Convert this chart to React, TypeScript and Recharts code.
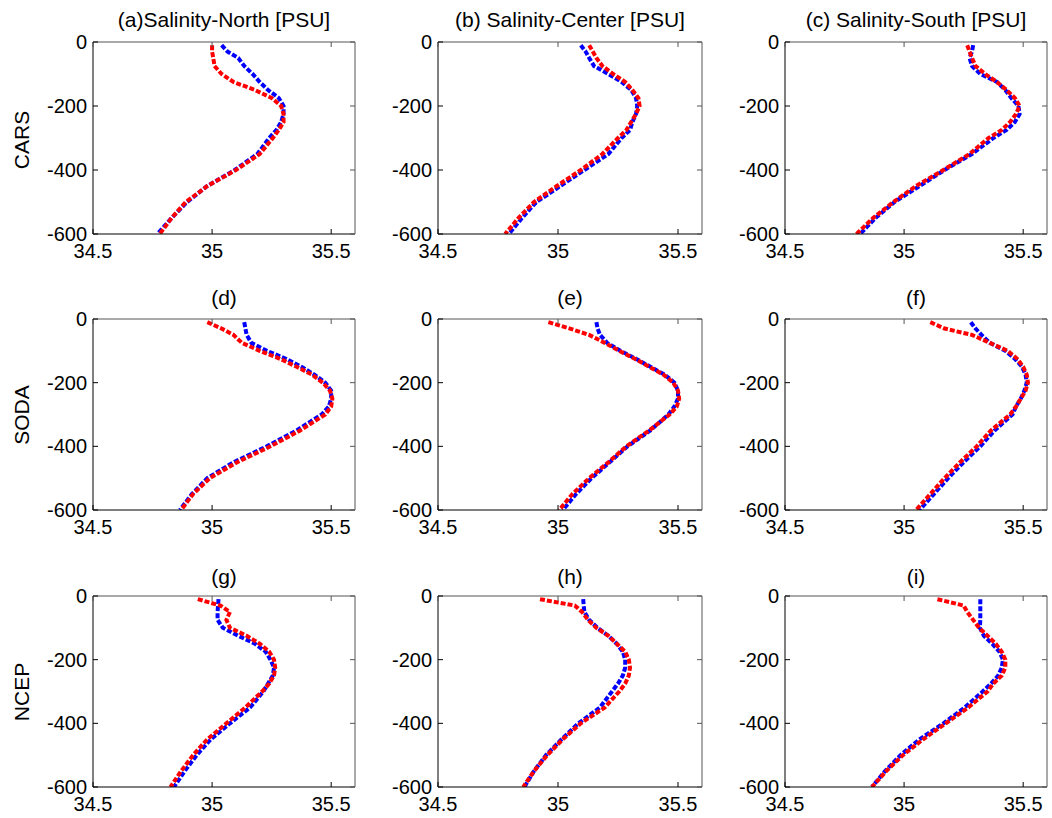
import React from "react";
import { LineChart, Line, XAxis, YAxis } from "recharts";

// depth levels (m) shared by every profile
const DEPTHS = [-10, -30, -50, -75, -100, -125, -150, -175, -200, -225, -250, -275, -300, -350, -400, -450, -500, -550, -600];

const X_TICKS = [34.5, 35, 35.5];
const Y_TICKS = [0, -200, -400, -600];
const X_DOMAIN: [number, number] = [34.5, 35.6];
const Y_DOMAIN: [number, number] = [-600, 0];

const ROW_LABELS = ["CARS", "SODA", "NCEP"];
const TITLES = [
  "(a)Salinity-North [PSU]",
  "(b) Salinity-Center [PSU]",
  "(c) Salinity-South [PSU]",
  "(d)",
  "(e)",
  "(f)",
  "(g)",
  "(h)",
  "(i)",
];

// CARS
const carsNorthBlue = [35.04, 35.065, 35.11, 35.135, 35.17, 35.2, 35.235, 35.28, 35.3, 35.3, 35.29, 35.27, 35.24, 35.19, 35.095, 34.98, 34.895, 34.83, 34.77];
const carsNorthRed = [35.0, 35.0, 35.005, 35.01, 35.04, 35.09, 35.18, 35.25, 35.29, 35.3, 35.3, 35.28, 35.255, 35.2, 35.1, 34.98, 34.89, 34.83, 34.78];
const carsCenterBlue = [35.095, 35.115, 35.13, 35.15, 35.21, 35.265, 35.305, 35.325, 35.33, 35.325, 35.31, 35.3, 35.265, 35.21, 35.11, 35.01, 34.91, 34.85, 34.795];
const carsCenterRed = [35.13, 35.145, 35.16, 35.185, 35.23, 35.28, 35.31, 35.335, 35.34, 35.325, 35.305, 35.285, 35.25, 35.185, 35.095, 34.995, 34.9, 34.835, 34.78];
const carsSouthBlue = [35.29, 35.285, 35.275, 35.285, 35.32, 35.39, 35.425, 35.45, 35.48, 35.485, 35.465, 35.43, 35.375, 35.285, 35.17, 35.065, 34.96, 34.88, 34.815];
const carsSouthRed = [35.265, 35.275, 35.285, 35.3, 35.34, 35.39, 35.43, 35.465, 35.485, 35.47, 35.445, 35.41, 35.355, 35.275, 35.165, 35.05, 34.955, 34.87, 34.8];

// SODA
const sodaNorthBlue = [35.135, 35.14, 35.145, 35.165, 35.23, 35.31, 35.375, 35.43, 35.475, 35.5, 35.5, 35.49, 35.46, 35.355, 35.23, 35.09, 34.98, 34.915, 34.865];
const sodaNorthRed = [34.98, 35.04, 35.09, 35.125, 35.2, 35.285, 35.355, 35.42, 35.465, 35.495, 35.505, 35.5, 35.475, 35.37, 35.245, 35.105, 34.99, 34.92, 34.87];
const sodaCenterBlue = [35.16, 35.165, 35.175, 35.205, 35.26, 35.325, 35.385, 35.445, 35.485, 35.5, 35.5, 35.485, 35.46, 35.385, 35.29, 35.215, 35.14, 35.075, 35.02];
const sodaCenterRed = [34.96, 35.05, 35.13, 35.195, 35.255, 35.32, 35.38, 35.44, 35.48, 35.5, 35.505, 35.495, 35.465, 35.38, 35.285, 35.21, 35.13, 35.06, 35.005];
const sodaSouthBlue = [35.28, 35.3, 35.325, 35.36, 35.425, 35.465, 35.495, 35.51, 35.515, 35.505, 35.49, 35.47, 35.455, 35.38, 35.32, 35.25, 35.185, 35.125, 35.065];
const sodaSouthRed = [35.11, 35.17, 35.285, 35.36, 35.435, 35.475, 35.5, 35.515, 35.52, 35.51, 35.49, 35.47, 35.445, 35.365, 35.305, 35.235, 35.17, 35.11, 35.05];

// NCEP
const ncepNorthBlue = [35.027, 35.025, 35.023, 35.023, 35.045, 35.11, 35.18, 35.225, 35.245, 35.26, 35.255, 35.235, 35.215, 35.16, 35.075, 34.995, 34.935, 34.885, 34.84];
const ncepNorthRed = [34.94, 35.035, 35.075, 35.06, 35.075, 35.145, 35.2, 35.24, 35.26, 35.265, 35.26, 35.24, 35.21, 35.14, 35.06, 34.98, 34.92, 34.87, 34.825];
const ncepCenterBlue = [35.105, 35.107, 35.11, 35.13, 35.165, 35.21, 35.245, 35.27, 35.28, 35.28, 35.27, 35.25, 35.225, 35.175, 35.085, 35.015, 34.95, 34.9, 34.86];
const ncepCenterRed = [34.925, 35.07, 35.1, 35.125, 35.16, 35.21, 35.245, 35.28, 35.295, 35.3, 35.295, 35.28, 35.255, 35.195, 35.095, 35.02, 34.955, 34.9, 34.855];
const ncepSouthBlue = [35.32, 35.32, 35.32, 35.32, 35.318, 35.335, 35.37, 35.4, 35.415, 35.41, 35.395, 35.365, 35.33, 35.255, 35.165, 35.065, 34.985, 34.92, 34.865];
const ncepSouthRed = [35.14, 35.25, 35.265, 35.29, 35.315, 35.35, 35.385, 35.41, 35.425, 35.425, 35.41, 35.375, 35.35, 35.27, 35.175, 35.08, 34.995, 34.925, 34.865];

const SERIES = [
  [carsNorthBlue, carsNorthRed],
  [carsCenterBlue, carsCenterRed],
  [carsSouthBlue, carsSouthRed],
  [sodaNorthBlue, sodaNorthRed],
  [sodaCenterBlue, sodaCenterRed],
  [sodaSouthBlue, sodaSouthRed],
  [ncepNorthBlue, ncepNorthRed],
  [ncepCenterBlue, ncepCenterRed],
  [ncepSouthBlue, ncepSouthRed],
];

const FONT = '"Liberation Sans", Arial, Helvetica, sans-serif';
const FS = 20;
const COL_X = [93, 438, 785];
const COL_W = [262, 264, 262];
const ROW_Y = [42, 319, 596];
const ROW_H = [192, 191, 191];
const TITLE_Y = [20, 298, 577];
const LABEL_Y = [140, 415, 692];

const toProfile = (vals: number[]) => vals.map((s, i) => ({ s, d: DEPTHS[i] }));

const BottomTick = (p: any) => (
  <g>
    <line x1={p.x} y1={p.y} x2={p.x} y2={p.y - 5} stroke="#000" />
    <text x={p.x} y={p.y + 24} textAnchor="middle" fontSize={FS} fill="#000" fontFamily={FONT}>
      {p.payload.value}
    </text>
  </g>
);
const LeftTick = (p: any) => (
  <g>
    <line x1={p.x} y1={p.y} x2={p.x + 5} y2={p.y} stroke="#000" />
    <text x={p.x - 6} y={p.y + 7} textAnchor="end" fontSize={FS} fill="#000" fontFamily={FONT}>
      {p.payload.value}
    </text>
  </g>
);
const TopTick = (p: any) => <line x1={p.x} y1={p.y} x2={p.x} y2={p.y + 5} stroke="#555" />;
const RightTick = (p: any) => <line x1={p.x} y1={p.y} x2={p.x - 5} y2={p.y} stroke="#555" />;

function Panel({ left, top, width, height, blue, red }: any) {
  const YW = 70;
  const XH = 34;
  const M = 10;
  return (
    <div style={{ position: "absolute", left: left - YW, top: top - M }}>
      <LineChart width={YW + width + M} height={M + height + XH} margin={{ top: M - 1, right: M - 1, bottom: 0, left: 0 }}>
        <XAxis xAxisId="b" type="number" dataKey="s" domain={X_DOMAIN} ticks={X_TICKS} allowDataOverflow interval={0}
          height={XH} tickSize={0} tickMargin={0} tickLine={false} axisLine={{ stroke: "#000" }} tick={BottomTick} />
        <XAxis xAxisId="t" orientation="top" type="number" dataKey="s" domain={X_DOMAIN} ticks={X_TICKS} allowDataOverflow interval={0}
          height={1} tickSize={0} tickMargin={0} tickLine={false} axisLine={{ stroke: "#555" }} tick={TopTick} />
        <YAxis yAxisId="l" type="number" domain={Y_DOMAIN} ticks={Y_TICKS} allowDataOverflow interval={0}
          width={YW} tickSize={0} tickMargin={0} tickLine={false} axisLine={{ stroke: "#000" }} tick={LeftTick} />
        <YAxis yAxisId="r" orientation="right" type="number" domain={Y_DOMAIN} ticks={Y_TICKS} allowDataOverflow interval={0}
          width={1} tickSize={0} tickMargin={0} tickLine={false} axisLine={{ stroke: "#555" }} tick={RightTick} />
        <Line xAxisId="b" yAxisId="l" data={blue} dataKey="d" stroke="#0000ff" strokeWidth={4}
          strokeDasharray="5 2" dot={false} activeDot={false} isAnimationActive={false} />
        <Line xAxisId="b" yAxisId="l" data={red} dataKey="d" stroke="#ff0000" strokeWidth={4}
          strokeDasharray="5 2" dot={false} activeDot={false} isAnimationActive={false} />
      </LineChart>
    </div>
  );
}

export default function App() {
  return (
    <div style={{ position: "absolute", left: 0, top: 0, width: 1052, height: 818, background: "#fff", fontFamily: FONT }}>
      {SERIES.map(([b, r], i) => {
        const row = Math.floor(i / 3);
        const col = i % 3;
        return (
          <React.Fragment key={i}>
            <div style={{ position: "absolute", left: COL_X[col] + COL_W[col] / 2, top: TITLE_Y[row],
              transform: "translate(-50%, -50%)", fontSize: 21, whiteSpace: "nowrap", color: "#000" }}>
              {TITLES[i]}
            </div>
            <Panel left={COL_X[col]} top={ROW_Y[row]} width={COL_W[col]} height={ROW_H[row]}
              blue={toProfile(b)} red={toProfile(r)} />
          </React.Fragment>
        );
      })}
      {ROW_LABELS.map((t, i) => (
        <div key={t} style={{ position: "absolute", left: 22, top: LABEL_Y[i],
          transform: "translate(-50%, -50%) rotate(-90deg)", fontSize: 21, whiteSpace: "nowrap", color: "#000" }}>
          {t}
        </div>
      ))}
    </div>
  );
}
